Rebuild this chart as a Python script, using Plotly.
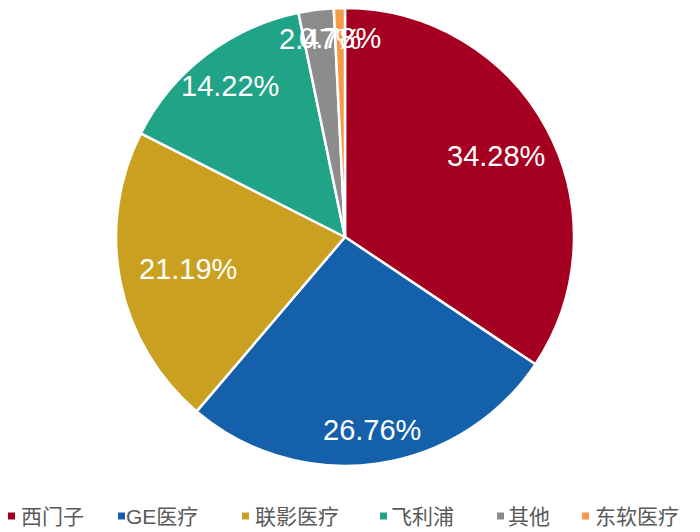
import math
import plotly.graph_objects as go

companies = ["西门子", "GE医疗", "联影医疗", "飞利浦", "其他", "东软医疗"]
shares = [34.28, 26.76, 21.19, 14.22, 2.47, 0.78]
share_labels = ["34.28%", "26.76%", "21.19%", "14.22%", "2.47%", "0.78%"]

colors = ["#A50021", "#1460AA", "#C9A020", "#20A386", "#8C8C8C", "#F59A45"]
label_r = [0.75, 0.85, 0.70, 0.83, 0.87, 0.87]

W, H = 700, 532
OFF = 8                      # page body offset
cx, cy, R = 345 - OFF, 237 - OFF, 229   # pie centre/radius in figure px

# legend layout (figure px): marker left edge, text left edge
leg_marker_x = [0, 110, 234, 372, 489, 574]
leg_text_x = [11, 116, 245, 381, 498, 585]
leg_y = 516 - OFF
mk = 7

fig = go.Figure(go.Pie(
    labels=companies,
    values=shares,
    sort=False,
    direction="clockwise",
    rotation=0,
    marker=dict(colors=colors, line=dict(color="white", width=2.5)),
    textinfo="none",
    hoverinfo="label+percent",
    showlegend=False,
    domain=dict(x=[(cx - R) / W, (cx + R) / W],
                y=[max(0, 1 - (cy + R) / H), min(1, 1 - (cy - R) / H)]),
))

# data labels placed along each slice's mid-angle
total = sum(shares)
cum = 0.0
annotations = []
shapes = []
for v, t, rr in zip(shares, share_labels, label_r):
    mid = (cum + v / 2) / total * 2 * math.pi
    cum += v
    px = cx + rr * R * math.sin(mid)
    py = cy - rr * R * math.cos(mid)
    annotations.append(dict(
        x=px / W, y=1 - py / H, xref="paper", yref="paper",
        text=t, showarrow=False,
        font=dict(family="Liberation Sans, Arial, sans-serif", size=29, color="white"),
        xanchor="center", yanchor="middle",
    ))

# legend (square swatch + name)
for name, col, mx, tx in zip(companies, colors, leg_marker_x, leg_text_x):
    shapes.append(dict(
        type="rect", xref="paper", yref="paper",
        x0=mx / W, x1=(mx + mk) / W,
        y0=1 - (leg_y + mk / 2) / H, y1=1 - (leg_y - mk / 2) / H,
        fillcolor=col, line=dict(width=0),
    ))
    annotations.append(dict(
        x=tx / W, y=1 - leg_y / H, xref="paper", yref="paper",
        text=name, showarrow=False,
        font=dict(family="Liberation Sans, Noto Sans CJK SC, sans-serif", size=21, color="#595959"),
        xanchor="left", yanchor="middle",
    ))

fig.update_layout(
    width=W, height=H,
    margin=dict(l=0, r=0, t=0, b=0),
    paper_bgcolor="white",
    plot_bgcolor="white",
    annotations=annotations,
    shapes=shapes,
    showlegend=False,
)

fig.write_html("out.html")
